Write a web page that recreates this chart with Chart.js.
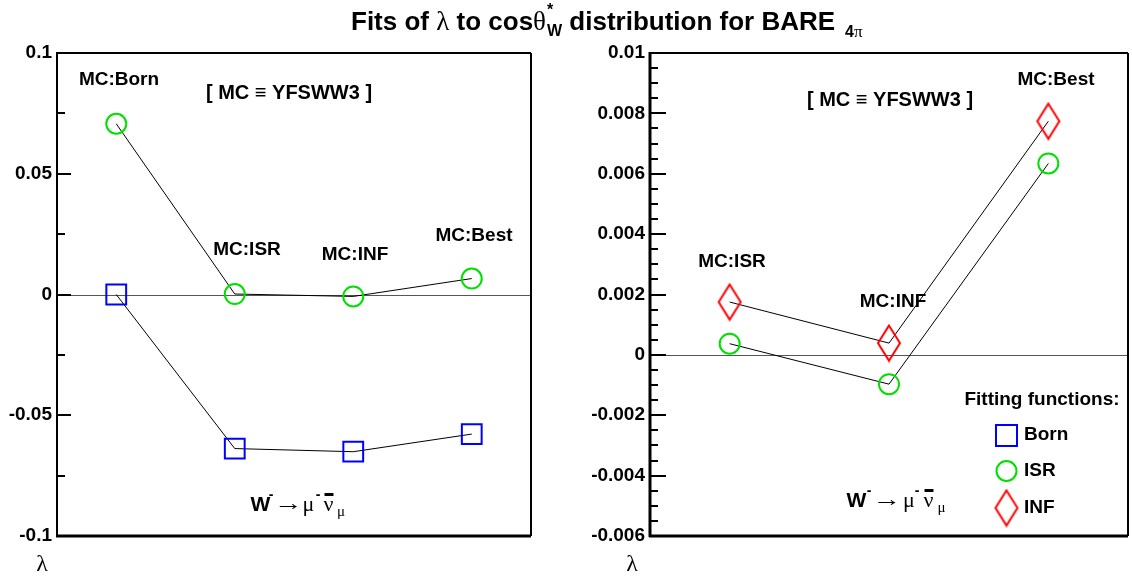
<!DOCTYPE html>
<html><head><meta charset="utf-8">
<script src="https://cdn.jsdelivr.net/npm/chart.js@4.4.1/dist/chart.umd.min.js"></script>
<style>
html,body{margin:0;padding:0;overflow:hidden;background:#fff;width:1132px;height:577px}
#l{position:absolute;left:0;top:0}
#r{position:absolute;left:566px;top:0}
</style></head><body>
<canvas id="l" width="1132" height="577"></canvas>
<canvas id="r" width="574" height="577"></canvas>
<script>
// ---------- data ----------
const leftCategories = ['MC:Born', 'MC:ISR', 'MC:INF', 'MC:Best'];
const leftBornFit = [0.0, -0.0638, -0.0651, -0.0578];
const leftIsrFit = [0.0707, 0.0002, -0.0008, 0.0066];
const leftYTicks = [-0.1, -0.05, 0, 0.05, 0.1];

const rightCategories = ['MC:ISR', 'MC:INF', 'MC:Best'];
const rightIsrFit = [0.00037, -0.00097, 0.00634];
const rightInfFit = [0.00175, 0.00039, 0.00774];
const rightYTicks = [-0.006, -0.004, -0.002, 0, 0.002, 0.004, 0.006, 0.008, 0.01];

// ---------- styles ----------
const SANS = '"Liberation Sans", Arial, Helvetica, sans-serif';
const SERIF = '"Liberation Serif", "Times New Roman", serif';
const BLUE = '#0000ff', GREEN = '#00e000', RED = '#ff0000';

function diamondCanvas(hw, hh, color, lw) {
  const c = document.createElement('canvas');
  c.width = 2 * hw + 2 * lw; c.height = 2 * hh + 2 * lw;
  const g = c.getContext('2d');
  g.strokeStyle = color; g.lineWidth = lw;
  const cx = c.width / 2, cy = c.height / 2;
  g.beginPath();
  g.moveTo(cx, cy - hh); g.lineTo(cx + hw, cy); g.lineTo(cx, cy + hh); g.lineTo(cx - hw, cy);
  g.closePath(); g.stroke();
  return c;
}
const diamond = diamondCanvas(11, 17.5, RED, 2);

function seq(ctx, x, base, pieces) {
  ctx.textAlign = 'left'; ctx.textBaseline = 'alphabetic'; ctx.fillStyle = '#000';
  for (const p of pieces) {
    ctx.font = p.f;
    const px = x + (p.dx || 0);
    ctx.fillText(p.t, px, base + (p.dy || 0));
    const w = ctx.measureText(p.t).width;
    if (!p.stay) x = px + w;
  }
}
function label(ctx, t, x, y, size, align) {
  ctx.font = 'bold ' + size + 'px ' + SANS;
  ctx.fillStyle = '#000'; ctx.textAlign = align || 'center'; ctx.textBaseline = 'middle';
  ctx.fillText(t, x, y);
}
// W- -> mu- nubar_mu, each piece centred on an explicit x
function wDecay(ctx, xs, base) {
  ctx.save();
  ctx.fillStyle = '#000'; ctx.textAlign = 'center'; ctx.textBaseline = 'alphabetic';
  const S = '22px ' + SERIF, sup = 'bold 14px ' + SANS;
  ctx.font = 'bold 21px ' + SANS; ctx.fillText('W', xs[0], base);
  ctx.font = sup; ctx.fillText('-', xs[1], base - 12);
  ctx.save(); ctx.translate(xs[2], base - 1); ctx.scale(1.3, 1);
  ctx.font = S; ctx.fillText('\u2192', 0, 0); ctx.restore();
  ctx.font = S; ctx.fillText('\u03bc', xs[3], base);
  ctx.font = sup; ctx.fillText('-', xs[4], base - 12);
  ctx.font = S; ctx.fillText('\u03bd', xs[5], base);
  const w = ctx.measureText('\u03bd').width;
  ctx.fillRect(xs[5] - w / 2 + 1, base - 18, w - 1, 3);
  ctx.font = '15px ' + SERIF; ctx.fillText('\u03bc', xs[6], base + 5);
  ctx.restore();
}

function drawAxisTicks(ctx, chart, majors, minorStep, majLen, minLen) {
  const a = chart.chartArea, y = chart.scales.y;
  ctx.strokeStyle = '#000'; ctx.lineWidth = 2;
  const n = Math.round((y.max - y.min) / minorStep);
  for (let i = 0; i <= n; i++) {
    const v = y.min + i * minorStep;
    const isMaj = majors.some(m => Math.abs(m - v) < minorStep / 10);
    const py = Math.round(y.getPixelForValue(v));
    ctx.beginPath(); ctx.moveTo(a.left, py); ctx.lineTo(a.left + (isMaj ? majLen : minLen), py); ctx.stroke();
  }
}
function zeroLine(ctx, chart) {
  const a = chart.chartArea, py = Math.round(chart.scales.y.getPixelForValue(0)) + 0.5;
  ctx.save(); ctx.strokeStyle = '#555'; ctx.lineWidth = 1;
  ctx.beginPath(); ctx.moveTo(a.left, py); ctx.lineTo(a.right, py); ctx.stroke(); ctx.restore();
}
function frame(ctx, a, lwL, lwB, lwT, lwR) {
  ctx.save(); ctx.strokeStyle = '#000';
  ctx.lineWidth = lwT; ctx.beginPath(); ctx.moveTo(a.left, a.top); ctx.lineTo(a.right, a.top); ctx.stroke();
  ctx.lineWidth = lwR; ctx.beginPath(); ctx.moveTo(a.right, a.top); ctx.lineTo(a.right, a.bottom); ctx.stroke();
  ctx.lineWidth = lwB; ctx.beginPath(); ctx.moveTo(a.left - 1, a.bottom); ctx.lineTo(a.right, a.bottom); ctx.stroke();
  ctx.lineWidth = lwL; ctx.beginPath(); ctx.moveTo(a.left, a.top - 1); ctx.lineTo(a.left, a.bottom + 1); ctx.stroke();
  ctx.restore();
}

const leftPlugin = {
  id: 'leftDeco',
  beforeDatasetsDraw(chart) { zeroLine(chart.ctx, chart); },
  afterDraw(chart) {
    const ctx = chart.ctx, a = chart.chartArea;
    ctx.save();
    frame(ctx, a, 2, 3, 2, 2);
    drawAxisTicks(ctx, chart, leftYTicks, 0.025, 14, 8);
    // title
    const B = 'bold 26px ' + SANS, S = '27px ' + SERIF, small = 'bold 16px ' + SANS;
    seq(ctx, 351, 30, [
      {t: 'Fits of ', f: B},
      {t: '\u03bb', f: S},
      {t: ' to cos', f: B},
      {t: '\u03b8', f: S},
      {t: '*', f: small, dy: -15, dx: 1, stay: true},
      {t: 'W', f: small, dy: 6, dx: 1},
      {t: ' distribution for BARE', f: B},
      {t: '4', f: small, dy: 7, dx: 10},
      {t: '\u03c0', f: '17px ' + SERIF, dy: 7}
    ]);
    // annotations
    label(ctx, 'MC:Born', 119, 80, 19);
    label(ctx, '[ MC \u2261 YFSWW3 ]', 289, 93, 20);
    label(ctx, 'MC:ISR', 247, 250, 19);
    label(ctx, 'MC:INF', 355, 255, 19);
    label(ctx, 'MC:Best', 474, 236, 19);
    wDecay(ctx, [260.5, 271, 288.5, 308.5, 318, 328.5, 341], 511);
    ctx.font = '24px ' + SERIF; ctx.textAlign = 'center'; ctx.textBaseline = 'alphabetic';
    ctx.fillText('\u03bb', 42, 571);
    ctx.restore();
  }
};

const rightPlugin = {
  id: 'rightDeco',
  beforeDatasetsDraw(chart) { zeroLine(chart.ctx, chart); },
  afterDraw(chart) {
    const ctx = chart.ctx, a = chart.chartArea;
    ctx.save();
    frame(ctx, a, 3, 3, 2, 2);
    drawAxisTicks(ctx, chart, rightYTicks, 0.0005, 16, 8);
    ctx.translate(-566, 0);
    label(ctx, '[ MC \u2261 YFSWW3 ]', 890, 100, 20);
    label(ctx, 'MC:Best', 1056, 80, 19);
    label(ctx, 'MC:ISR', 732, 262, 19);
    label(ctx, 'MC:INF', 893, 302, 19);
    wDecay(ctx, [856.5, 869, 887, 909, 917, 928.5, 941.5], 507);
    // legend
    label(ctx, 'Fitting functions:', 1042, 400, 19);
    ctx.lineWidth = 2;
    ctx.strokeStyle = BLUE; ctx.strokeRect(996, 425, 21, 21);
    ctx.strokeStyle = GREEN; ctx.beginPath(); ctx.arc(1006.5, 471, 10, 0, Math.PI * 2); ctx.stroke();
    ctx.drawImage(diamond, 1006.5 - diamond.width / 2, 508 - diamond.height / 2);
    label(ctx, 'Born', 1024, 435, 19, 'left');
    label(ctx, 'ISR', 1024, 471, 19, 'left');
    label(ctx, 'INF', 1024, 508, 19, 'left');
    ctx.font = '24px ' + SERIF; ctx.fillStyle = '#000'; ctx.textAlign = 'center'; ctx.textBaseline = 'alphabetic';
    ctx.fillText('\u03bb', 632, 571);
    ctx.restore();
  }
};

function yScale(min, max, ticks, width) {
  return {
    type: 'linear', min: min, max: max,
    afterBuildTicks: s => { s.ticks = ticks.map(v => ({value: v})); },
    afterFit: s => { s.width = width; },
    grid: {display: false, drawTicks: false},
    border: {display: false},
    ticks: {callback: v => String(v), color: '#000', padding: 5,
            font: {family: SANS, size: 19, weight: 'bold'}}
  };
}
function lineDs(label, data, color, style, radius) {
  return {label, data, borderColor: '#000', borderWidth: 1, tension: 0,
          pointStyle: style, pointRadius: radius, pointHoverRadius: radius,
          pointBorderColor: color, pointBackgroundColor: 'rgba(0,0,0,0)', pointBorderWidth: 2,
          clip: false};
}
const common = {
  responsive: false, animation: false, devicePixelRatio: 1,
  plugins: {legend: {display: false}, tooltip: {enabled: false}},
  events: []
};

new Chart(document.getElementById('l'), {
  type: 'line',
  data: {labels: leftCategories, datasets: [
    lineDs('Born', leftBornFit, BLUE, 'rect', 14),
    lineDs('ISR', leftIsrFit, GREEN, 'circle', 10)
  ]},
  options: Object.assign({}, common, {
    layout: {padding: {left: 0, top: 53, right: 1132 - 531, bottom: 577 - 536}},
    scales: {
      x: {type: 'category', offset: true, display: false},
      y: yScale(-0.1, 0.1, leftYTicks, 57)
    }
  }),
  plugins: [leftPlugin]
});

new Chart(document.getElementById('r'), {
  type: 'line',
  data: {labels: rightCategories, datasets: [
    lineDs('ISR', rightIsrFit, GREEN, 'circle', 10),
    lineDs('INF', rightInfFit, RED, diamond, 10)
  ]},
  options: Object.assign({}, common, {
    layout: {padding: {left: 0, top: 53, right: 574 - 569, bottom: 577 - 536}},
    scales: {
      x: {type: 'category', offset: true, display: false},
      y: yScale(-0.006, 0.01, rightYTicks, 84)
    }
  }),
  plugins: [rightPlugin]
});
</script>
</body></html>
